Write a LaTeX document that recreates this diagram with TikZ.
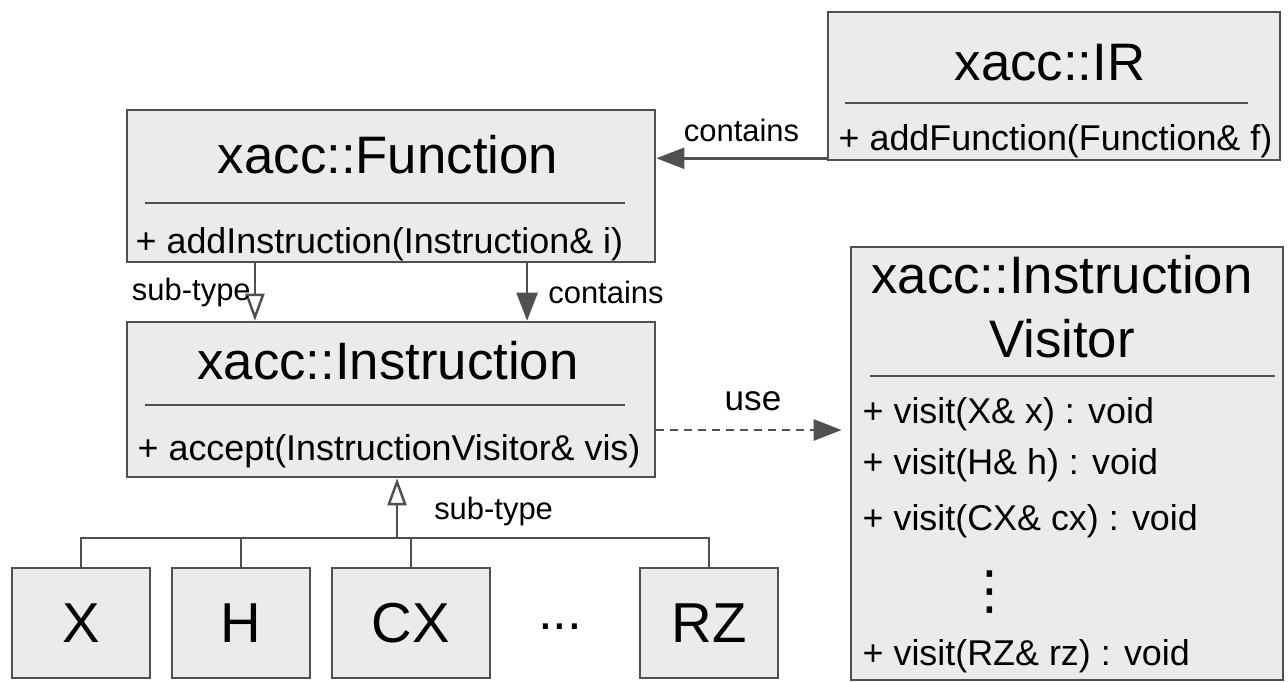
\documentclass[tikz,border=0pt]{standalone}
\usepackage{fontspec}
\setmainfont{Liberation Sans}
\newfontfamily\dejavu{DejaVu Sans}
\usetikzlibrary{arrows.meta}
\definecolor{boxgray}{RGB}{235,235,235}
\definecolor{linegray}{RGB}{80,80,80}
\tikzset{
  umlbox/.style={draw=linegray, fill=boxgray, line width=0.7pt, inner sep=0pt},
  classname/.style={font=\fontsize{15}{18}\selectfont, anchor=base},
  member/.style={font=\fontsize{10.2}{12}\selectfont, anchor=base west, inner sep=0pt},
  rel/.style={font=\fontsize{8.8}{10}\selectfont, inner sep=0pt},
  conn/.style={draw=linegray, line width=0.7pt},
  has/.style={conn, -{Triangle[length=0.28cm, width=0.21cm]}},
  isa/.style={conn, -{Triangle[open, length=0.27cm, width=0.19cm]}},
  uses/.style={has, dash pattern=on 0.08cm off 0.06cm}
}
\begin{document}
\begin{tikzpicture}[x=0.01cm, y=-0.01cm]
\useasboundingbox (0,0) rectangle (1288,682);
\node[umlbox, minimum width=4.52cm, minimum height=1.48cm] (ir) at (1054,86) {};
\node[classname] (irname) at (1050,81) {xacc::IR};
\draw[conn] (845,103) -- (1248,103);
\node[member] (irfunc) at (838,150) {+ addFunction(Function\& f)};
\node[umlbox, minimum width=5.28cm, minimum height=1.52cm] (fn) at (391,186) {};
\node[classname] (fnname) at (388,174) {xacc::Function};
\draw[conn] (145,203) -- (625,203);
\node[member] (fnadd) at (135,253) {+ addInstruction(Instruction\& i)};
\node[umlbox, minimum width=5.28cm, minimum height=1.55cm] (ins) at (391,399.5) {};
\node[classname] (insname) at (388,379) {xacc::Instruction};
\draw[conn] (145,405) -- (625,405);
\node[member] (insaccept) at (137,460) {+ accept(InstructionVisitor\& vis)};
\node[umlbox, minimum width=4.32cm, minimum height=4.33cm] (vis) at (1067,463.5) {};
\node[classname] (visname) at (1062,294) {xacc::Instruction};
\node[classname] (visname2) at (1062,357) {Visitor};
\draw[conn] (870,376) -- (1275,376);
\node[member] (visx) at (862,423) {+ visit(X\& x) : void};
\node[member] (vish) at (862,474) {+ visit(H\& h) : void};
\node[member] (viscx) at (862,530) {+ visit(CX\& cx) : void};
\node[font=\dejavu\fontsize{15}{18}\selectfont] (visdots) at (990,592) {⋮};
\node[member] (visrz) at (862,665) {+ visit(RZ\& rz) : void};
\node[umlbox, minimum width=1.38cm, minimum height=1.1cm, font=\fontsize{16}{19}\selectfont] (gx) at (81,623) {X};
\node[umlbox, minimum width=1.38cm, minimum height=1.1cm, font=\fontsize{16}{19}\selectfont] (gh) at (241,623) {H};
\node[umlbox, minimum width=1.58cm, minimum height=1.1cm, font=\fontsize{16}{19}\selectfont] (gcx) at (411,623) {CX};
\node[font=\fontsize{15}{18}\selectfont] (gdots) at (560,627) {...};
\node[umlbox, minimum width=1.38cm, minimum height=1.1cm, font=\fontsize{16}{19}\selectfont] (grz) at (709,623) {RZ};
\draw[has] ([yshift=0.03cm]ir.south west) -- ([yshift=0.03cm]ir.south west -| fn.east)
  node[rel, midway, above=0.15cm] {contains};
\draw[isa] ([xshift=-1.36cm]fn.south) -- ([xshift=-1.36cm]ins.north)
  node[rel, midway, left=0.03cm] {sub-type};
\draw[has] ([xshift=1.36cm]fn.south) -- ([xshift=1.36cm]ins.north)
  node[rel, midway, right=0.2cm] {contains};
\draw[uses, shorten >=0.08cm] ([yshift=-0.305cm]ins.east) -- ([yshift=-0.305cm]ins.east -| vis.west)
  node[rel, midway, above=0.18cm, font=\fontsize{10}{12}\selectfont] {use};
\coordinate (bus) at (397,538);
\draw[isa] (bus) -- (bus |- ins.south) node[rel, pos=0.45, right=0.36cm] {sub-type};
\draw[conn] (gx.north) -- (gx.north |- bus) -- (grz.north |- bus) -- (grz.north);
\foreach \g in {gh,gcx} \draw[conn] (\g.north) -- (\g.north |- bus);
\end{tikzpicture}
\end{document}
